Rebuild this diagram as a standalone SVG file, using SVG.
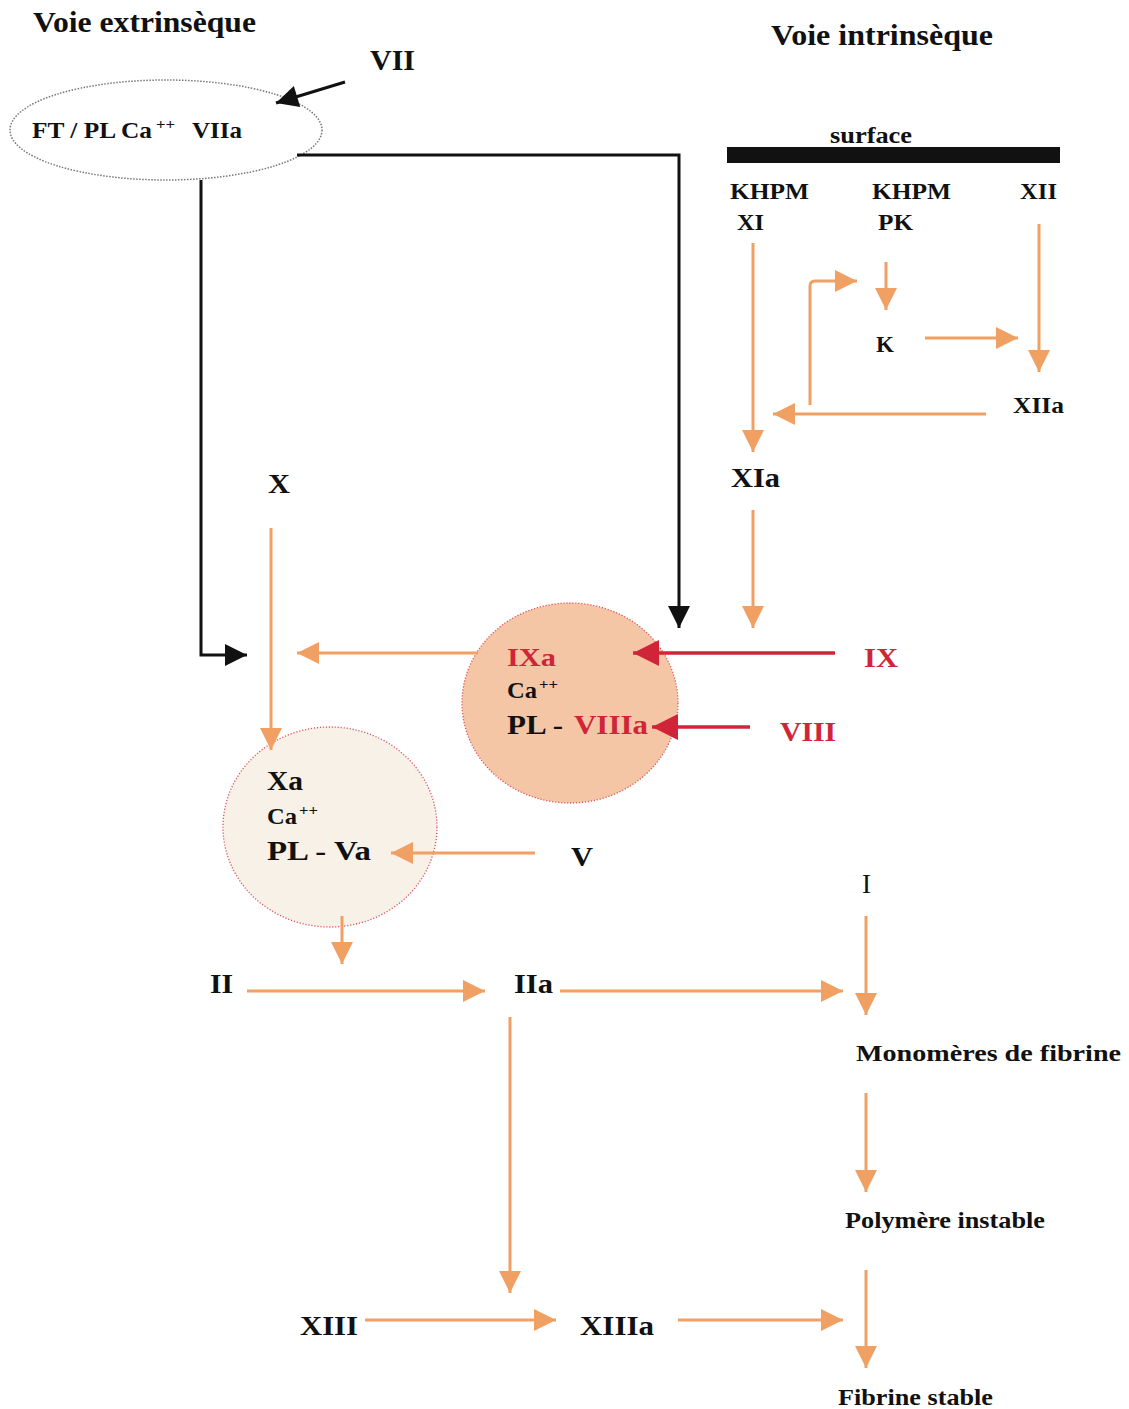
<svg xmlns="http://www.w3.org/2000/svg" width="1129" height="1409" viewBox="0 0 1129 1409">
<style>
.t{font-family:"Liberation Serif","Times New Roman",serif;font-weight:bold;fill:#111}
.r{fill:#d02538}
.o{stroke:#f0a062;stroke-width:3;fill:none}
.k{stroke:#111;stroke-width:3;fill:none}
.rd{stroke:#d02538;stroke-width:3.5;fill:none}
</style>
<defs>
<marker id="ao" viewBox="0 0 10 10" refX="10" refY="5" markerUnits="userSpaceOnUse" markerWidth="28" markerHeight="22" orient="auto"><path d="M0,0 L10,5 L0,10 z" fill="#f0a062"/></marker>
<marker id="ak" viewBox="0 0 10 10" refX="10" refY="5" markerUnits="userSpaceOnUse" markerWidth="24" markerHeight="22" orient="auto"><path d="M0,0 L10,5 L0,10 z" fill="#111"/></marker>
<marker id="ar" viewBox="0 0 10 10" refX="10" refY="5" markerUnits="userSpaceOnUse" markerWidth="28" markerHeight="26" orient="auto"><path d="M0,0 L10,5 L0,10 z" fill="#d02538"/></marker>
</defs>
<rect width="1129" height="1409" fill="#fff"/>

<g id="titles">
<text class="t" x="33" y="32" font-size="29" textLength="223" lengthAdjust="spacingAndGlyphs">Voie extrinsèque</text>
<text class="t" x="771" y="45" font-size="29" textLength="222" lengthAdjust="spacingAndGlyphs">Voie intrinsèque</text>
</g>

<g id="n-VII"><text class="t" x="370" y="70" font-size="29" textLength="45" lengthAdjust="spacingAndGlyphs">VII</text></g>
<g id="n-FT">
<ellipse cx="166" cy="130" rx="156" ry="50" fill="none" stroke="#777" stroke-width="1.5" stroke-dasharray="1.5 1.5"/>
<text class="t" x="32" y="138" font-size="23" textLength="120" lengthAdjust="spacingAndGlyphs">FT / PL Ca</text>
<text class="t" x="156" y="129" font-size="15" textLength="19" lengthAdjust="spacingAndGlyphs">++</text>
<text class="t" x="192" y="138" font-size="23" textLength="50" lengthAdjust="spacingAndGlyphs">VIIa</text>
</g>

<g id="n-surface">
<rect x="727" y="147" width="333" height="16" fill="#111"/>
<text class="t" x="830" y="143" font-size="23" textLength="82" lengthAdjust="spacingAndGlyphs">surface</text>
</g>
<g id="n-KHPM-XI"><text class="t" x="730" y="199" font-size="24" textLength="79" lengthAdjust="spacingAndGlyphs">KHPM</text><text class="t" x="737" y="230" font-size="24" textLength="27" lengthAdjust="spacingAndGlyphs">XI</text></g>
<g id="n-KHPM-PK"><text class="t" x="872" y="199" font-size="24" textLength="79" lengthAdjust="spacingAndGlyphs">KHPM</text><text class="t" x="878" y="230" font-size="24" textLength="35" lengthAdjust="spacingAndGlyphs">PK</text></g>
<g id="n-XII"><text class="t" x="1020" y="199" font-size="24" textLength="37" lengthAdjust="spacingAndGlyphs">XII</text></g>
<g id="n-K"><text class="t" x="876" y="352" font-size="23" textLength="18" lengthAdjust="spacingAndGlyphs">K</text></g>
<g id="n-XIIa"><text class="t" x="1013" y="413" font-size="24" textLength="51" lengthAdjust="spacingAndGlyphs">XIIa</text></g>
<g id="n-XIa"><text class="t" x="731" y="487" font-size="27" textLength="49" lengthAdjust="spacingAndGlyphs">XIa</text></g>
<g id="n-X"><text class="t" x="268" y="493" font-size="27" textLength="22" lengthAdjust="spacingAndGlyphs">X</text></g>

<g id="n-IXa">
<ellipse cx="570" cy="703" rx="108" ry="100" fill="#f4c6a5" stroke="#e0505a" stroke-width="1.3" stroke-dasharray="1.2 1.8"/>
<text class="t r" x="507" y="666" font-size="26" textLength="49" lengthAdjust="spacingAndGlyphs">IXa</text>
<text class="t" x="507" y="698" font-size="23" textLength="30" lengthAdjust="spacingAndGlyphs">Ca</text>
<text class="t" x="539" y="689" font-size="15" textLength="19" lengthAdjust="spacingAndGlyphs">++</text>
<text class="t" x="507" y="734" font-size="28" textLength="56" lengthAdjust="spacingAndGlyphs">PL -</text>
<text class="t r" x="574" y="734" font-size="28" textLength="74" lengthAdjust="spacingAndGlyphs">VIIIa</text>
</g>
<g id="n-IX"><text class="t r" x="864" y="667" font-size="27" textLength="34" lengthAdjust="spacingAndGlyphs">IX</text></g>
<g id="n-VIII"><text class="t r" x="780" y="741" font-size="27" textLength="56" lengthAdjust="spacingAndGlyphs">VIII</text></g>

<g id="n-Xa">
<ellipse cx="330" cy="827" rx="107" ry="100" fill="#f8f1e8" stroke="#e0505a" stroke-width="1.3" stroke-dasharray="1.2 1.8"/>
<text class="t" x="267" y="790" font-size="27" textLength="36" lengthAdjust="spacingAndGlyphs">Xa</text>
<text class="t" x="267" y="824" font-size="23" textLength="30" lengthAdjust="spacingAndGlyphs">Ca</text>
<text class="t" x="299" y="815" font-size="15" textLength="19" lengthAdjust="spacingAndGlyphs">++</text>
<text class="t" x="267" y="860" font-size="28" textLength="104" lengthAdjust="spacingAndGlyphs">PL - Va</text>
</g>
<g id="n-V"><text class="t" x="571" y="866" font-size="27" textLength="22" lengthAdjust="spacingAndGlyphs">V</text></g>

<g id="n-II"><text class="t" x="210" y="993" font-size="27" textLength="23" lengthAdjust="spacingAndGlyphs">II</text></g>
<g id="n-IIa"><text class="t" x="514" y="993" font-size="27" textLength="39" lengthAdjust="spacingAndGlyphs">IIa</text></g>
<g id="n-I"><text x="862" y="893" font-size="27" font-family="Liberation Serif,serif" fill="#111" textLength="9" lengthAdjust="spacingAndGlyphs">I</text></g>
<g id="n-mono"><text class="t" x="856" y="1061" font-size="24" textLength="265" lengthAdjust="spacingAndGlyphs">Monomères de fibrine</text></g>
<g id="n-poly"><text class="t" x="845" y="1228" font-size="23" textLength="200" lengthAdjust="spacingAndGlyphs">Polymère instable</text></g>
<g id="n-fib"><text class="t" x="838" y="1405" font-size="23" textLength="155" lengthAdjust="spacingAndGlyphs">Fibrine stable</text></g>
<g id="n-XIII"><text class="t" x="300" y="1335" font-size="27" textLength="58" lengthAdjust="spacingAndGlyphs">XIII</text></g>
<g id="n-XIIIa"><text class="t" x="580" y="1335" font-size="27" textLength="74" lengthAdjust="spacingAndGlyphs">XIIIa</text></g>

<g id="connectors">
<line class="k" x1="345" y1="82" x2="276" y2="103" marker-end="url(#ak)"/>
<polyline class="k" points="297,155 679,155 679,628" marker-end="url(#ak)"/>
<polyline class="k" points="201,180 201,655 247,655" marker-end="url(#ak)"/>

<line class="o" x1="753" y1="243" x2="753" y2="452" marker-end="url(#ao)"/>
<line class="o" x1="886" y1="262" x2="886" y2="310" marker-end="url(#ao)"/>
<line class="o" x1="925" y1="338" x2="1018" y2="338" marker-end="url(#ao)"/>
<line class="o" x1="1039" y1="224" x2="1039" y2="372" marker-end="url(#ao)"/>
<line class="o" x1="986" y1="414" x2="773" y2="414" marker-end="url(#ao)"/>
<path class="o" d="M810,405 L810,286 Q810,281 815,281 L857,281" marker-end="url(#ao)"/>
<line class="o" x1="753" y1="510" x2="753" y2="628" marker-end="url(#ao)"/>

<line class="rd" x1="835" y1="653" x2="633" y2="653" marker-end="url(#ar)"/>
<line class="rd" x1="750" y1="727" x2="652" y2="727" marker-end="url(#ar)"/>

<line class="o" x1="478" y1="653" x2="297" y2="653" marker-end="url(#ao)"/>
<line class="o" x1="271" y1="528" x2="271" y2="750" marker-end="url(#ao)"/>
<line class="o" x1="535" y1="853" x2="391" y2="853" marker-end="url(#ao)"/>
<line class="o" x1="342" y1="916" x2="342" y2="964" marker-end="url(#ao)"/>

<line class="o" x1="247" y1="991" x2="485" y2="991" marker-end="url(#ao)"/>
<line class="o" x1="560" y1="991" x2="843" y2="991" marker-end="url(#ao)"/>
<line class="o" x1="866" y1="916" x2="866" y2="1015" marker-end="url(#ao)"/>
<line class="o" x1="866" y1="1093" x2="866" y2="1192" marker-end="url(#ao)"/>
<line class="o" x1="866" y1="1270" x2="866" y2="1368" marker-end="url(#ao)"/>
<line class="o" x1="510" y1="1017" x2="510" y2="1293" marker-end="url(#ao)"/>
<line class="o" x1="365" y1="1320" x2="556" y2="1320" marker-end="url(#ao)"/>
<line class="o" x1="678" y1="1320" x2="843" y2="1320" marker-end="url(#ao)"/>
</g>
</svg>
